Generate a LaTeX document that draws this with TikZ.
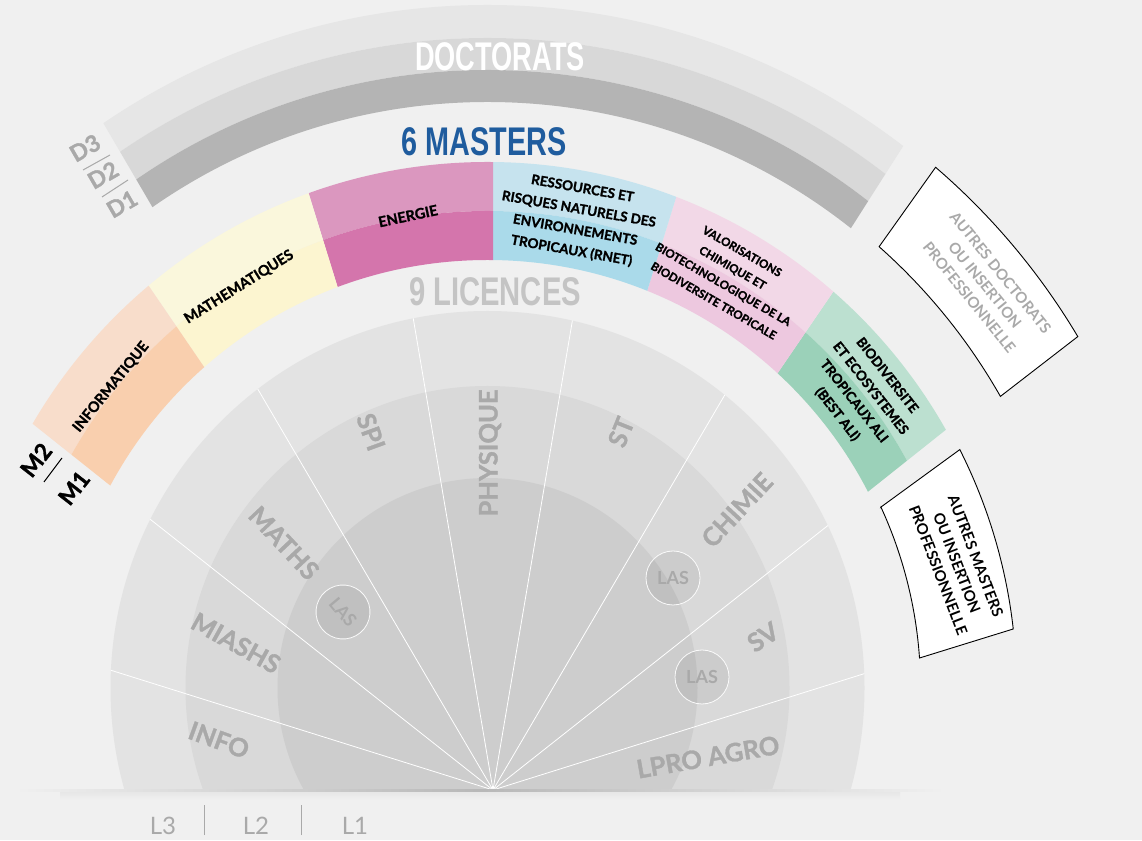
\documentclass[tikz,border=0pt]{standalone}
\usepackage{fontspec}
\usepackage{graphicx}
\setmainfont{Lato}
\newfontfamily\heavy{Lato}[BoldFeatures={FakeBold=1.3}]
\newfontfamily\condfont{Liberation Sans}
\usetikzlibrary{calc}
\definecolor{bg}{HTML}{F0F0F0}
\definecolor{lthree}{HTML}{E3E3E3}
\definecolor{ltwo}{HTML}{D9D9D9}
\definecolor{lone}{HTML}{CDCDCD}
\definecolor{dthree}{HTML}{E6E6E6}
\definecolor{dtwo}{HTML}{D8D8D8}
\definecolor{done}{HTML}{B4B4B4}
\definecolor{licgray}{HTML}{A9A9A9}
\definecolor{titlegray}{HTML}{C4C4C4}
\definecolor{mblue}{HTML}{1F5C9E}
\definecolor{infoA}{HTML}{F8DDCB}
\definecolor{infoB}{HTML}{F9CFAE}
\definecolor{mathA}{HTML}{FAF7DC}
\definecolor{mathB}{HTML}{FCF5D0}
\definecolor{enerA}{HTML}{DB97BF}
\definecolor{enerB}{HTML}{D475AC}
\definecolor{rnetA}{HTML}{C6E3EE}
\definecolor{rnetB}{HTML}{AADAEA}
\definecolor{valoA}{HTML}{F2D8E7}
\definecolor{valoB}{HTML}{EDC8DF}
\definecolor{bioA}{HTML}{BCE0D0}
\definecolor{bioB}{HTML}{9BD1B9}
\newcommand{\annsec}[5]{%
  \begin{scope}
    \clip (P) -- ($(P)+(#1:1000)$) -- ($(P)+(#2:1000)$) -- cycle;
    \fill[#5, even odd rule] (O) circle[radius=#4] (O) circle[radius=#3];
  \end{scope}}
\tikzset{
  liclab/.style={text=licgray, font=\heavy\fontsize{25.5}{27}\selectfont\bfseries, inner sep=0pt},
  mlab/.style={text=black, font=\heavy\fontsize{14.5}{21}\selectfont\bfseries, align=center, inner sep=0pt},
  bigtitle/.style={font=\condfont\fontsize{40}{40}\selectfont\bfseries, inner sep=0pt},
  sidelab/.style={font=\heavy\fontsize{23}{23}\selectfont\bfseries, inner sep=0pt},
  boxtxt/.style={font=\fontsize{15}{20}\selectfont\bfseries, align=center, inner sep=0pt},
  las/.style={circle, minimum size=54pt, inner sep=0pt, fill=black, fill opacity=0.06, text opacity=1, draw=white, draw opacity=0.9, line width=0.8pt, text=licgray, font=\fontsize{18}{18}\selectfont\bfseries},
  lvl/.style={text=licgray, font=\fontsize{24}{24}\selectfont, inner sep=0pt},
  boxline/.style={draw=black, line width=0.9pt, fill=white}
}
\begin{document}
\begin{tikzpicture}[x=1pt,y=1pt]
\useasboundingbox (0,0) rectangle (1142,840);
\fill[bg] (0,0) rectangle (1142,840);
\coordinate (P) at (493,50);
\coordinate (O) at (487.5,152);

% Doctorats ring
\annsec{57.5}{120.3}{650}{683}{dthree}
\annsec{57.5}{120.3}{618}{650}{dtwo}
\annsec{57.5}{120.3}{586}{618}{done}

% Masters ring
\annsec{38.5}{55.67}{477}{526}{bioA}
\annsec{38.5}{55.67}{428}{477}{bioB}
\annsec{55.67}{72.83}{477}{526}{valoA}
\annsec{55.67}{72.83}{428}{477}{valoB}
\annsec{72.83}{90}{477}{526}{rnetA}
\annsec{72.83}{90}{428}{477}{rnetB}
\annsec{90}{107.17}{477}{526}{enerA}
\annsec{90}{107.17}{428}{477}{enerB}
\annsec{107.17}{124.33}{477}{526}{mathA}
\annsec{107.17}{124.33}{428}{477}{mathB}
\annsec{124.33}{141.5}{477}{526}{infoA}
\annsec{124.33}{141.5}{428}{477}{infoB}

% Licence disk
\begin{scope}
  \clip (0,50) rectangle (1142,840);
  \fill[lthree] (O) circle[radius=377];
  \fill[ltwo] (O) circle[radius=302];
  \fill[lone] (O) circle[radius=210];
  \clip (O) circle[radius=377];
  \foreach \a in {17.4,38.3,59.6,80.4,99.6,120.4,141.7,162.6}
    \draw[white, line width=0.8pt] (P) -- ++(\a:520);
\end{scope}

% baseline shadow
\shade[top color=black!10, bottom color=bg] (60,40) rectangle (900,49.5);
\shade[left color=bg, right color=bg, middle color=black!28] (15,49) rectangle (945,50.6);

% side boxes
\draw[boxline] (879.1,593.3) -- (935.6,672.7) arc[start angle=49.29, end angle=30.77, radius=687]
  -- (1000.4,443.6) arc[start angle=29.62, end angle=48.41, radius=590] -- cycle;
\draw[boxline] (880.9,332.9) -- (959.8,390.4) arc[start angle=26.78, end angle=6.40, radius=529]
  -- (919.5,182.0) arc[start angle=3.97, end angle=24.70, radius=433] -- cycle;
\node[boxtxt, text=licgray, rotate=-51] (boxdoc) at (985,555) {AUTRES DOCTORATS\\OU INSERTION\\PROFESSIONNELLE};
\node[boxtxt, text=black, rotate=-69] (boxmas) at (957,277) {AUTRES MASTERS\\OU INSERTION\\PROFESSIONNELLE};

% titles
\node[bigtitle, text=white] (doct) at (500,783) {\scalebox{0.68}[1]{DOCTORATS}};
\node[bigtitle, text=mblue] (mast) at (484,698) {\scalebox{0.72}[1]{6 MASTERS}};
\node[bigtitle, text=titlegray] (lic) at (495,548) {\scalebox{0.73}[1]{9 LICENCES}};

% master labels
\node[mlab, rotate=51] (inf) at (111,453) {INFORMATIQUE};
\node[mlab, rotate=32] (mat) at (239,553) {MATHEMATIQUES};
\node[mlab, rotate=12] (ene) at (408,624) {ENERGIE};
\node[mlab, font=\heavy\fontsize{13.5}{21}\selectfont\bfseries, rotate=-10] (rne) at (577,620) {RESSOURCES ET\\RISQUES NATURELS DES\\ENVIRONNEMENTS\\TROPICAUX (RNET)};
\node[mlab, font=\heavy\fontsize{11.5}{19}\selectfont\bfseries, rotate=-30] (val) at (728,564) {VALORISATIONS\\CHIMIQUE ET\\BIOTECHNOLOGIQUE DE LA\\BIODIVERSITE TROPICALE};
\node[mlab, font=\heavy\fontsize{13.5}{21}\selectfont\bfseries, rotate=-52] (bio) at (862,445) {BIODIVERSITE\\ET ECOSYSTEMES\\TROPICAUX ALI\\(BEST ALI)};

% M2 / M1
\node[sidelab, text=black, rotate=52] (mtwo) at (36,380) {M2};
\node[sidelab, text=black, rotate=52] (mone) at (74,352) {M1};
\draw[black, line width=1pt] (44,358) -- (62,382);

% D3 / D2 / D1
\node[sidelab, text=licgray, rotate=30] (dthr) at (85,692) {D3};
\node[sidelab, text=licgray, rotate=30] (dtw) at (103,665) {D2};
\node[sidelab, text=licgray, rotate=30] (don) at (122,636) {D1};
\draw[licgray, line width=1pt] (83,670) -- (110,685);
\draw[licgray, line width=1pt] (102,643) -- (128,660);

% licence labels
\node[liclab, rotate=-20] (linfo) at (219,100) {INFO};
\node[liclab, rotate=-29] (lmiashs) at (236,197) {MIASHS};
\node[liclab, rotate=-47] (lmaths) at (284,297) {MATHS};
\node[liclab, rotate=-70] (lspi) at (371,408) {SPI};
\node[liclab, rotate=90] (lphys) at (490,387) {PHYSIQUE};
\node[liclab, rotate=68] (lst) at (621,408) {ST};
\node[liclab, rotate=47] (lchim) at (737,330) {CHIMIE};
\node[liclab, rotate=33] (lsv) at (763,203) {SV};
\node[liclab, rotate=10] (lagro) at (708,83) {LPRO AGRO};

% LAS circles
\node[las, rotate=-50] (lasa) at (343,228) {LAS};
\node[las] (lasb) at (673,262) {LAS};
\node[las] (lasc) at (702,163) {LAS};

% L levels
\node[lvl] (lthr) at (163,14) {L3};
\node[lvl] (ltw) at (256,14) {L2};
\node[lvl] (lon) at (355,14) {L1};
\draw[licgray, line width=1pt] (204,5) -- (204,35);
\draw[licgray, line width=1pt] (301,5) -- (301,35);
\end{tikzpicture}
\end{document}
